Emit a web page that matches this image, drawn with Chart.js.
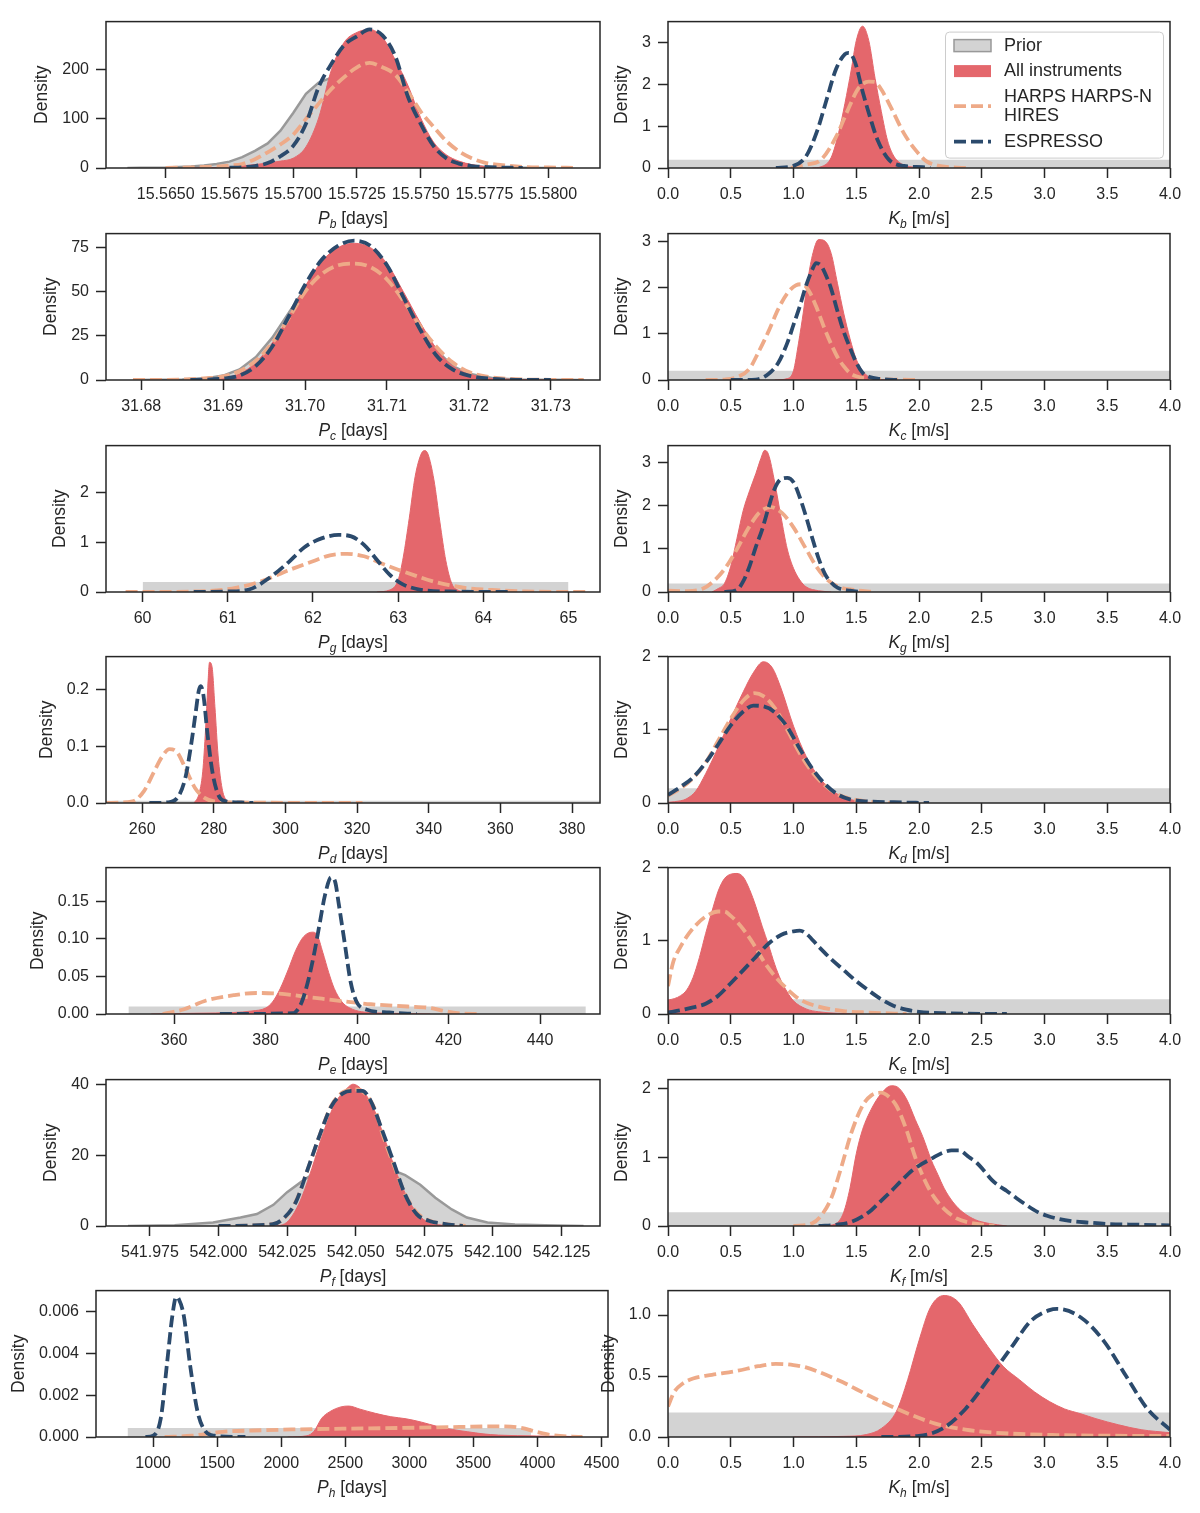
<!DOCTYPE html>
<html>
<head>
<meta charset="utf-8">
<script src="https://cdn.jsdelivr.net/npm/chart.js@4.4.1/dist/chart.umd.min.js"></script>
<style>
  body { margin: 0; background: #fff; }
  #page { position: relative; width: 1200px; height: 1513px; overflow: hidden; background: #fff; }
  #page canvas { position: absolute; }
</style>
</head>
<body>
<div id="page"></div>
<script>
// ---- tick values ----
const kXTicks = [0, 0.5, 1, 1.5, 2, 2.5, 3, 3.5, 4];
const pbXTicks = [15.5650, 15.5675, 15.5700, 15.5725, 15.5750, 15.5775, 15.5800];
const pcXTicks = [31.68, 31.69, 31.70, 31.71, 31.72, 31.73];
const pgXTicks = [60, 61, 62, 63, 64, 65];
const pdXTicks = [260, 280, 300, 320, 340, 360, 380];
const peXTicks = [360, 380, 400, 420, 440];
const pfXTicks = [541.975, 542.000, 542.025, 542.050, 542.075, 542.100, 542.125];
const phXTicks = [1000, 1500, 2000, 2500, 3000, 3500, 4000, 4500];

const pbYTicks = [0, 100, 200];
const pcYTicks = [0, 25, 50, 75];
const pgYTicks = [0, 1, 2];
const pdYTicks = [0, 0.1, 0.2];
const peYTicks = [0, 0.05, 0.10, 0.15];
const pfYTicks = [0, 20, 40];
const phYTicks = [0, 0.002, 0.004, 0.006];
const k3YTicks = [0, 1, 2, 3];
const k2YTicks = [0, 1, 2];
const khYTicks = [0, 0.5, 1.0];

// ---- posterior densities, [value, density] ----
const pbPrior = [[15.5635,0],[15.5640,0.5],[15.5650,1],[15.5660,3],[15.5665,5],[15.5670,8],[15.5675,13],[15.5680,22],[15.5685,35],[15.5690,50],[15.5695,76],[15.5700,112],[15.5705,151],[15.5710,174],[15.5715,184],[15.5720,188],[15.5725,185],[15.5730,175],[15.5735,155],[15.5740,125],[15.5745,95],[15.5750,62],[15.5755,38],[15.5760,20],[15.5765,10],[15.5770,5],[15.5775,2],[15.5780,1],[15.5790,0.3],[15.5800,0]];
const pbAll = [[15.5660,0],[15.5665,0.5],[15.5670,1],[15.5675,2],[15.5680,4],[15.5685,7],[15.5690,10],[15.5695,14],[15.5700,20],[15.5705,43],[15.5710,102],[15.5715,200],[15.5720,256],[15.5725,276],[15.5730,282],[15.5735,266],[15.5740,220],[15.5745,168],[15.5750,102],[15.5755,53],[15.5760,27],[15.5765,14],[15.5770,7],[15.5775,3],[15.5780,1],[15.5790,0.2]];
const pbHarps = [[15.5650,0.3],[15.5660,1],[15.5665,2],[15.5670,3],[15.5675,5],[15.5680,8],[15.5685,18],[15.5690,32],[15.5695,48],[15.5700,68],[15.5705,100],[15.5710,131],[15.5715,161],[15.5720,185],[15.5725,205],[15.5730,214],[15.5735,205],[15.5740,190],[15.5745,155],[15.5750,115],[15.5755,84],[15.5760,55],[15.5765,34],[15.5770,20],[15.5775,11],[15.5780,7],[15.5790,2],[15.5800,1],[15.5810,0.3]];
const pbEspresso = [[15.5675,0.5],[15.5680,1.5],[15.5685,4],[15.5690,10],[15.5695,24],[15.5700,45],[15.5705,90],[15.5710,165],[15.5715,212],[15.5720,250],[15.5725,268],[15.5730,282],[15.5735,270],[15.5740,228],[15.5745,145],[15.5750,90],[15.5755,45],[15.5760,20],[15.5765,9],[15.5770,4],[15.5775,2],[15.5780,1],[15.5790,0.2]];

const kbAll = [[1.15,0],[1.22,0.03],[1.3,0.25],[1.36,0.85],[1.41,1.55],[1.46,2.35],[1.5,3.05],[1.55,3.4],[1.6,3.05],[1.65,2.15],[1.7,1.35],[1.75,0.65],[1.8,0.28],[1.85,0.12],[1.9,0.05],[2.0,0.01]];
const kbHarps = [[0.98,0],[1.1,0.08],[1.22,0.2],[1.34,0.75],[1.43,1.37],[1.52,1.92],[1.6,2.07],[1.65,2.06],[1.7,1.88],[1.79,1.37],[1.88,0.83],[1.97,0.44],[2.06,0.16],[2.15,0.06],[2.24,0.02],[2.39,0]];
const kbEspresso = [[0.86,0],[1.0,0.05],[1.1,0.28],[1.19,0.9],[1.26,1.6],[1.34,2.38],[1.41,2.73],[1.44,2.76],[1.49,2.54],[1.55,1.84],[1.61,1.22],[1.67,0.67],[1.76,0.2],[1.88,0.05],[2.03,0.02],[2.09,0]];

const pcPrior = [[31.679,0],[31.685,0.3],[31.688,1],[31.690,2.5],[31.692,6],[31.694,13],[31.696,24],[31.698,38],[31.700,52],[31.702,63],[31.704,70],[31.706,72],[31.708,68],[31.710,58],[31.712,44],[31.714,30],[31.716,17],[31.718,8],[31.720,3.5],[31.723,1],[31.726,0.3],[31.734,0]];
const pcAll = [[31.686,0],[31.688,0.3],[31.690,1.2],[31.692,3.5],[31.694,10],[31.696,21],[31.698,36],[31.700,53],[31.702,67],[31.704,75],[31.706,77.5],[31.708,75],[31.710,66],[31.712,50],[31.714,33],[31.716,18],[31.718,8],[31.720,3.5],[31.722,1.3],[31.725,0.4],[31.730,0]];
const pcHarps = [[31.679,0],[31.685,0.3],[31.688,1],[31.690,2],[31.692,5],[31.694,11],[31.696,21],[31.698,35],[31.700,50],[31.702,60],[31.704,65],[31.706,66],[31.708,64],[31.710,57],[31.712,45],[31.714,31],[31.716,19],[31.718,10],[31.720,4.5],[31.722,2],[31.725,0.6],[31.730,0.1],[31.734,0]];
const pcEspresso = [[31.686,0],[31.690,0.8],[31.692,2.5],[31.694,8],[31.696,19],[31.698,36],[31.700,54],[31.702,68],[31.704,76],[31.706,79],[31.708,76],[31.710,65],[31.712,47],[31.714,29],[31.716,14],[31.718,6],[31.720,2.5],[31.723,0.6],[31.726,0.1],[31.730,0]];

const kcAll = [[0.85,0],[0.95,0.03],[1.0,0.2],[1.04,0.8],[1.08,1.5],[1.11,2.1],[1.15,2.7],[1.2,3.05],[1.25,3.02],[1.3,2.75],[1.35,2.1],[1.4,1.45],[1.45,0.9],[1.5,0.45],[1.55,0.2],[1.6,0.07],[1.7,0.01],[1.8,0]];
const kcHarps = [[0.3,0],[0.45,0.01],[0.55,0.06],[0.65,0.25],[0.72,0.6],[0.8,1.05],[0.88,1.55],[0.95,1.88],[1.02,2.06],[1.07,2.08],[1.12,1.95],[1.18,1.6],[1.25,1.1],[1.3,0.78],[1.35,0.5],[1.4,0.3],[1.45,0.15],[1.5,0.08],[1.6,0.03],[1.8,0.01],[2.0,0]];
const kcEspresso = [[0.5,0],[0.7,0.01],[0.8,0.13],[0.88,0.38],[0.95,0.8],[1.0,1.2],[1.05,1.6],[1.1,2.05],[1.15,2.4],[1.18,2.54],[1.22,2.48],[1.27,2.2],[1.3,1.98],[1.35,1.5],[1.4,1.05],[1.45,0.7],[1.5,0.38],[1.55,0.16],[1.6,0.07],[1.7,0.02],[1.85,0]];

const pgPrior = [[60,0.2],[65,0.2]];
const pgAll = [[62.75,0],[62.9,0.04],[63.0,0.24],[63.06,0.7],[63.13,1.48],[63.2,2.33],[63.27,2.78],[63.31,2.85],[63.35,2.78],[63.42,2.26],[63.49,1.41],[63.56,0.63],[63.63,0.17],[63.7,0.04],[63.8,0]];
const pgHarps = [[59.8,0],[60.6,0.01],[61.05,0.07],[61.4,0.22],[61.7,0.43],[62.0,0.62],[62.2,0.74],[62.4,0.77],[62.6,0.72],[62.8,0.58],[63.0,0.45],[63.2,0.33],[63.4,0.22],[63.6,0.14],[63.8,0.08],[64.1,0.04],[64.5,0.01],[65.2,0]];
const pgEspresso = [[60.6,0],[61.0,0.01],[61.25,0.05],[61.5,0.3],[61.7,0.58],[61.9,0.9],[62.1,1.08],[62.3,1.15],[62.45,1.12],[62.6,0.95],[62.75,0.65],[62.9,0.35],[63.05,0.16],[63.25,0.05],[63.6,0.01],[64.3,0]];

const kgAll = [[0.35,0],[0.4,0.08],[0.45,0.2],[0.5,0.6],[0.55,1.25],[0.6,1.9],[0.65,2.35],[0.7,2.75],[0.74,3.1],[0.77,3.29],[0.8,3.2],[0.85,2.55],[0.9,1.75],[0.95,1.0],[1.0,0.55],[1.05,0.28],[1.1,0.12],[1.2,0.03],[1.3,0]];
const kgHarps = [[0.0,0.03],[0.15,0.02],[0.28,0.08],[0.37,0.27],[0.46,0.57],[0.55,1.0],[0.64,1.48],[0.73,1.85],[0.82,1.97],[0.91,1.83],[1.0,1.5],[1.1,1.0],[1.18,0.6],[1.27,0.28],[1.36,0.12],[1.48,0.05],[1.64,0]];
const kgEspresso = [[0.45,0],[0.55,0.05],[0.6,0.25],[0.65,0.6],[0.7,1.05],[0.75,1.45],[0.8,1.95],[0.85,2.4],[0.9,2.62],[0.95,2.65],[1.0,2.55],[1.05,2.2],[1.1,1.75],[1.15,1.25],[1.2,0.78],[1.25,0.42],[1.3,0.22],[1.35,0.1],[1.45,0.03],[1.55,0]];

const pdPrior = [[240,0.004],[400,0.004]];
const pdAll = [[274.5,0],[275.8,0.015],[276.9,0.055],[277.7,0.13],[278.3,0.203],[278.8,0.248],[279.5,0.24],[280.3,0.17],[281.2,0.083],[282.3,0.026],[283.4,0.006],[285.6,0]];
const pdHarps = [[250,0],[257.3,0.003],[260.5,0.021],[263.3,0.055],[265.4,0.08],[267.6,0.095],[269.8,0.089],[272,0.062],[274.7,0.027],[277.4,0.009],[280.1,0.003],[285.6,0.001],[321.5,0]];
const pdEspresso = [[262,0],[267,0.001],[269.8,0.009],[272,0.043],[273.6,0.1],[274.9,0.158],[275.8,0.198],[276.3,0.206],[277.1,0.19],[278.2,0.123],[279.6,0.055],[281.2,0.015],[283.4,0.003],[287.7,0.001],[291,0]];

const kdAll = [[0,0.01],[0.1,0.03],[0.15,0.06],[0.22,0.16],[0.3,0.4],[0.4,0.76],[0.5,1.15],[0.6,1.52],[0.68,1.78],[0.76,1.93],[0.83,1.85],[0.9,1.57],[1.0,1.05],[1.1,0.64],[1.2,0.36],[1.3,0.18],[1.4,0.08],[1.5,0.03],[1.65,0]];
const kdHarps = [[0,0.1],[0.1,0.2],[0.2,0.34],[0.3,0.55],[0.4,0.85],[0.5,1.15],[0.6,1.4],[0.69,1.5],[0.76,1.46],[0.85,1.3],[0.95,1.0],[1.05,0.68],[1.15,0.42],[1.25,0.24],[1.35,0.12],[1.45,0.06],[1.55,0.03],[1.65,0.01],[1.8,0]];
const kdEspresso = [[0,0.11],[0.1,0.22],[0.2,0.35],[0.3,0.55],[0.4,0.8],[0.5,1.06],[0.6,1.25],[0.68,1.33],[0.76,1.32],[0.85,1.24],[0.95,1.04],[1.05,0.74],[1.15,0.47],[1.25,0.26],[1.35,0.12],[1.45,0.05],[1.6,0.02],[1.8,0.01],[2.08,0]];

const pePrior = [[350,0.01],[450,0.01]];
const peAll = [[355,0],[365,0.001],[373,0.002],[377,0.004],[380,0.008],[381.5,0.016],[383.2,0.034],[385,0.06],[386.6,0.085],[388.3,0.103],[390.2,0.109],[391.2,0.106],[392.5,0.082],[393.8,0.055],[395,0.034],[396.7,0.016],[398.4,0.008],[401,0.003],[407,0.001],[416,0]];
const peHarps = [[357.5,0],[362,0.006],[367,0.018],[373,0.025],[378,0.028],[383,0.027],[390,0.022],[397,0.017],[403,0.013],[411,0.01],[416,0.008],[419,0.004],[422,0.001],[427,0]];
const peEspresso = [[370,0],[386,0.001],[386.6,0.003],[387.9,0.016],[389.2,0.042],[390.5,0.077],[391.8,0.12],[393,0.159],[394.3,0.182],[395.2,0.176],[396,0.146],[397.3,0.094],[398.6,0.042],[399.9,0.016],[402,0.006],[407,0.002],[413,0]];

const keAll = [[0,0.19],[0.05,0.21],[0.1,0.25],[0.15,0.33],[0.2,0.5],[0.25,0.77],[0.3,1.1],[0.35,1.4],[0.4,1.68],[0.45,1.85],[0.5,1.91],[0.55,1.92],[0.6,1.87],[0.65,1.7],[0.7,1.47],[0.75,1.2],[0.8,0.95],[0.85,0.68],[0.9,0.46],[0.95,0.3],[1.0,0.18],[1.1,0.07],[1.2,0.03],[1.35,0.01],[1.5,0]];
const keHarps = [[0,0.38],[0.04,0.7],[0.1,0.92],[0.15,1.06],[0.22,1.21],[0.3,1.33],[0.4,1.4],[0.45,1.4],[0.5,1.34],[0.58,1.2],[0.68,0.96],[0.77,0.7],[0.86,0.5],[0.95,0.34],[1.05,0.2],[1.2,0.1],[1.4,0.04],[1.6,0.02],[1.9,0]];
const keEspresso = [[0,0.02],[0.1,0.05],[0.2,0.09],[0.3,0.14],[0.4,0.25],[0.5,0.42],[0.6,0.6],[0.7,0.78],[0.8,0.96],[0.9,1.08],[1.0,1.13],[1.05,1.14],[1.1,1.1],[1.2,0.92],[1.3,0.75],[1.4,0.6],[1.5,0.45],[1.6,0.32],[1.7,0.2],[1.8,0.11],[1.9,0.06],[2.0,0.03],[2.2,0.01],[2.7,0]];

const pfPrior = [[541.967,0],[541.984,0.2],[541.998,1],[542.008,2.4],[542.014,3.4],[542.020,6],[542.025,9.6],[542.031,13],[542.035,15],[542.040,16.3],[542.045,17],[542.050,17.2],[542.055,17.1],[542.062,16.3],[542.068,14.4],[542.0735,11.7],[542.079,8],[542.085,4.7],[542.0905,2.4],[542.098,1],[542.108,0.4],[542.119,0.2],[542.133,0]];
const pfAll = [[542.020,0],[542.0226,0.2],[542.0255,1.5],[542.0297,7],[542.034,16.3],[542.0382,26.5],[542.0425,34.8],[542.0468,39],[542.049,40.2],[542.0524,38.5],[542.0567,33],[542.061,23.7],[542.0652,14.4],[542.0695,7],[542.0738,2.4],[542.078,0.7],[542.0822,0.2],[542.087,0]];
const pfHarps = [[542.000,0],[542.020,0.6],[542.0245,2.6],[542.0285,7.5],[542.0325,16],[542.037,26],[542.041,34],[542.0455,38],[542.050,38.7],[542.0535,37.5],[542.057,33],[542.060,25.5],[542.064,17],[542.068,9],[542.0725,3.6],[542.077,1.5],[542.083,0.5],[542.090,0]];
const pfEspresso = [[542.000,0],[542.0198,0.5],[542.024,2.4],[542.0283,7],[542.0326,16.3],[542.0368,25.6],[542.0411,33.9],[542.0453,37.6],[542.049,38.3],[542.0524,38.3],[542.0553,35.7],[542.0595,27.4],[542.0638,18.1],[542.068,8.9],[542.0723,3.3],[542.0766,1.5],[542.0822,0.6],[542.089,0]];

const kfAll = [[1.25,0],[1.35,0.05],[1.4,0.2],[1.45,0.55],[1.5,1.05],[1.55,1.4],[1.62,1.7],[1.7,1.93],[1.78,2.04],[1.83,2.02],[1.9,1.85],[1.97,1.55],[2.03,1.3],[2.1,0.95],[2.15,0.75],[2.2,0.55],[2.27,0.35],[2.35,0.2],[2.45,0.09],[2.55,0.04],[2.7,0]];
const kfHarps = [[1.0,0],[1.15,0.04],[1.22,0.15],[1.3,0.4],[1.38,0.85],[1.46,1.35],[1.55,1.75],[1.62,1.9],[1.7,1.94],[1.76,1.88],[1.82,1.75],[1.9,1.4],[1.97,1.0],[2.05,0.65],[2.12,0.42],[2.2,0.25],[2.3,0.11],[2.4,0.05],[2.6,0]];
const kfEspresso = [[1.2,0],[1.35,0.02],[1.46,0.06],[1.55,0.14],[1.62,0.23],[1.7,0.37],[1.78,0.51],[1.86,0.66],[1.94,0.8],[2.02,0.9],[2.1,0.98],[2.18,1.06],[2.26,1.1],[2.32,1.1],[2.4,1.0],[2.46,0.92],[2.52,0.8],[2.58,0.67],[2.64,0.58],[2.7,0.51],[2.78,0.4],[2.86,0.3],[2.94,0.21],[3.02,0.15],[3.12,0.1],[3.22,0.07],[3.35,0.05],[3.5,0.03],[3.7,0.02],[4.0,0.01]];

const phPrior = [[800,0.00043],[3950,0.00043]];
const phAll = [[2050,0],[2200,0.00006],[2256,0.00028],[2316,0.0009],[2376,0.0012],[2466,0.00144],[2526,0.00148],[2615,0.00133],[2735,0.00113],[2855,0.00097],[2975,0.00087],[3095,0.00071],[3215,0.00051],[3335,0.00036],[3455,0.00025],[3575,0.00015],[3695,0.00009],[3990,0.00005],[4350,0.00002]];
const phHarps = [[1090,0],[1300,0.00006],[1540,0.00025],[1780,0.00031],[2080,0.00036],[2500,0.0004],[2915,0.00043],[3390,0.00048],[3690,0.00051],[3870,0.00044],[3990,0.00025],[4110,0.00009],[4350,0]];
const phEspresso = [[940,0],[1000,0.00006],[1060,0.0009],[1108,0.0035],[1150,0.0058],[1180,0.0067],[1200,0.0066],[1239,0.0058],[1287,0.0035],[1347,0.0012],[1407,0.00028],[1480,0.00006],[1720,0]];

const khAll = [[1.0,0],[1.4,0.005],[1.58,0.02],[1.7,0.07],[1.82,0.21],[1.91,0.47],[2.0,0.79],[2.09,1.06],[2.2,1.16],[2.31,1.11],[2.43,0.92],[2.55,0.74],[2.67,0.58],[2.8,0.47],[2.92,0.37],[3.04,0.29],[3.16,0.23],[3.29,0.19],[3.41,0.15],[3.59,0.1],[3.77,0.06],[4.0,0.035]];
const khHarps = [[0,0.25],[0.05,0.37],[0.12,0.44],[0.2,0.48],[0.35,0.51],[0.54,0.54],[0.72,0.58],[0.86,0.6],[1.0,0.59],[1.1,0.57],[1.21,0.53],[1.39,0.45],[1.58,0.35],[1.76,0.26],[1.94,0.18],[2.13,0.11],[2.37,0.06],[2.61,0.035],[3.1,0.016],[4.0,0.008]];
const khEspresso = [[1.7,0],[2.0,0.01],[2.19,0.07],[2.37,0.23],[2.55,0.47],[2.74,0.74],[2.89,0.95],[3.04,1.04],[3.1,1.05],[3.29,0.98],[3.47,0.79],[3.65,0.5],[3.82,0.23],[4.0,0.06]];

const kPrior = [[0,0.2],[4,0.2]];

const legendLabels = ['Prior', 'All instruments', 'HARPS HARPS-N\nHIRES', 'ESPRESSO'];

// ---- styling ----
const FONT = '"Liberation Sans", Arial, sans-serif';
const INK = '#262626';
const RED = '#e4676c';
const ORANGE = '#eeaa88';
const NAVY = '#2b4a6c';
const PRIOR_FILL = '#d3d3d3';
const PRIOR_LINE = '#999999';
const TICK_FONT = 16;
const LABEL_FONT = 17.5;
const LEGEND_FONT = 18;
const TICK_LEN = 10;
const TICK_PAD = 7;
const LINE_W = 3.8;
const DASH = [12, 5];

// frame layout of the 7x2 grid
const ROW_TOPS = [17, 229, 441, 652, 863, 1075, 1286];
const ROW_H = 151;
const LEFT_COL = [[106, 600], [106, 600], [106, 600], [106, 600], [106, 600], [106, 600], [96, 608]];
const RIGHT_COL = [668, 1170];

const panels = [
  { row: 0, col: 0, sym: 'P', sub: 'b', unit: '[days]', x: [15.56266, 15.58203], yMax: 298, xTicks: pbXTicks, xDec: 4, yTicks: pbYTicks, yDec: 0, prior: pbPrior, kde: true, all: pbAll, harps: pbHarps, esp: pbEspresso },
  { row: 0, col: 1, sym: 'K', sub: 'b', unit: '[m/s]', x: [0, 4], yMax: 3.51, xTicks: kXTicks, xDec: 1, yTicks: k3YTicks, yDec: 0, prior: kPrior, all: kbAll, harps: kbHarps, esp: kbEspresso, legend: true },
  { row: 1, col: 0, sym: 'P', sub: 'c', unit: '[days]', x: [31.6757, 31.7360], yMax: 83, xTicks: pcXTicks, xDec: 2, yTicks: pcYTicks, yDec: 0, prior: pcPrior, kde: true, all: pcAll, harps: pcHarps, esp: pcEspresso },
  { row: 1, col: 1, sym: 'K', sub: 'c', unit: '[m/s]', x: [0, 4], yMax: 3.18, xTicks: kXTicks, xDec: 1, yTicks: k3YTicks, yDec: 0, prior: kPrior, all: kcAll, harps: kcHarps, esp: kcEspresso },
  { row: 2, col: 0, sym: 'P', sub: 'g', unit: '[days]', x: [59.57, 65.37], yMax: 2.95, xTicks: pgXTicks, xDec: 0, yTicks: pgYTicks, yDec: 0, prior: pgPrior, all: pgAll, harps: pgHarps, esp: pgEspresso },
  { row: 2, col: 1, sym: 'K', sub: 'g', unit: '[m/s]', x: [0, 4], yMax: 3.4, xTicks: kXTicks, xDec: 1, yTicks: k3YTicks, yDec: 0, prior: kPrior, all: kgAll, harps: kgHarps, esp: kgEspresso },
  { row: 3, col: 0, sym: 'P', sub: 'd', unit: '[days]', x: [249.9, 387.8], yMax: 0.258, xTicks: pdXTicks, xDec: 0, yTicks: pdYTicks, yDec: 1, prior: pdPrior, all: pdAll, harps: pdHarps, esp: pdEspresso },
  { row: 3, col: 1, sym: 'K', sub: 'd', unit: '[m/s]', x: [0, 4], yMax: 2.0, xTicks: kXTicks, xDec: 1, yTicks: k2YTicks, yDec: 0, prior: kPrior, all: kdAll, harps: kdHarps, esp: kdEspresso },
  { row: 4, col: 0, sym: 'P', sub: 'e', unit: '[days]', x: [345.1, 453.1], yMax: 0.195, xTicks: peXTicks, xDec: 0, yTicks: peYTicks, yDec: 2, prior: pePrior, all: peAll, harps: peHarps, esp: peEspresso },
  { row: 4, col: 1, sym: 'K', sub: 'e', unit: '[m/s]', x: [0, 4], yMax: 2.0, xTicks: kXTicks, xDec: 1, yTicks: k2YTicks, yDec: 0, prior: kPrior, all: keAll, harps: keHarps, esp: keEspresso },
  { row: 5, col: 0, sym: 'P', sub: 'f', unit: '[days]', x: [541.959, 542.139], yMax: 41.5, xTicks: pfXTicks, xDec: 3, yTicks: pfYTicks, yDec: 0, prior: pfPrior, kde: true, all: pfAll, harps: pfHarps, esp: pfEspresso },
  { row: 5, col: 1, sym: 'K', sub: 'f', unit: '[m/s]', x: [0, 4], yMax: 2.13, xTicks: kXTicks, xDec: 1, yTicks: k2YTicks, yDec: 0, prior: kPrior, all: kfAll, harps: kfHarps, esp: kfEspresso },
  { row: 6, col: 0, sym: 'P', sub: 'h', unit: '[days]', x: [554, 4550], yMax: 0.0070, xTicks: phXTicks, xDec: 0, yTicks: phYTicks, yDec: 3, prior: phPrior, all: phAll, harps: phHarps, esp: phEspresso },
  { row: 6, col: 1, sym: 'K', sub: 'h', unit: '[m/s]', x: [0, 4], yMax: 1.2, xTicks: kXTicks, xDec: 1, yTicks: khYTicks, yDec: 1, prior: kPrior, all: khAll, harps: khHarps, esp: khEspresso }
];

// canvas margins around each frame
const PAD_L = 110, PAD_R = 30, PAD_T = 12, PAD_B = 66;
const Y_AXIS_W = 60, X_AXIS_H = 36;

function toPoints(pairs) {
  return pairs.map(([x, y]) => ({ x, y }));
}

function drawAxisTitle(ctx, p, a) {
  const big = `${LABEL_FONT}px ${FONT}`;
  const italic = `italic ${LABEL_FONT}px ${FONT}`;
  const small = `italic ${Math.round(LABEL_FONT * 0.7)}px ${FONT}`;
  ctx.font = italic; const w1 = ctx.measureText(p.sym).width;
  ctx.font = small; const w2 = ctx.measureText(p.sub).width;
  ctx.font = big; const w3 = ctx.measureText(' ' + p.unit).width;
  let x = (a.left + a.right) / 2 - (w1 + w2 + w3) / 2;
  const y = a.bottom + 56;
  ctx.fillStyle = INK;
  ctx.textAlign = 'left';
  ctx.textBaseline = 'alphabetic';
  ctx.font = italic; ctx.fillText(p.sym, x, y); x += w1;
  ctx.font = small; ctx.fillText(p.sub, x, y + 4); x += w2;
  ctx.font = big; ctx.fillText(' ' + p.unit, x, y);
}

function drawDensityLabel(ctx, chart, a) {
  ctx.font = `${TICK_FONT}px ${FONT}`;
  let widest = 0;
  chart.scales.y.ticks.forEach(t => {
    widest = Math.max(widest, ctx.measureText(t.label).width);
  });
  const x = a.left - TICK_LEN - TICK_PAD - widest - 11;
  ctx.save();
  ctx.translate(x, (a.top + a.bottom) / 2);
  ctx.rotate(-Math.PI / 2);
  ctx.font = `${LABEL_FONT}px ${FONT}`;
  ctx.fillStyle = INK;
  ctx.textAlign = 'center';
  ctx.textBaseline = 'bottom';
  ctx.fillText('Density', 0, 0);
  ctx.restore();
}

function drawLegend(ctx, a) {
  // box sits in the upper right of the K_b panel
  const bx = a.left + 277, by = a.top + 10, bw = 218, bh = 126;
  ctx.save();
  ctx.fillStyle = 'rgba(255,255,255,0.85)';
  ctx.strokeStyle = '#cccccc';
  ctx.lineWidth = 1;
  ctx.beginPath();
  ctx.roundRect(bx + 0.5, by + 0.5, bw, bh, 4);
  ctx.fill();
  ctx.stroke();

  const hx = bx + 9, hw = 37, tx = bx + 59;
  const rows = [by + 14, by + 39.5, by + 74.5, by + 110];
  ctx.font = `${LEGEND_FONT}px ${FONT}`;
  ctx.textBaseline = 'middle';
  ctx.textAlign = 'left';

  // Prior patch
  ctx.fillStyle = PRIOR_FILL;
  ctx.fillRect(hx, rows[0] - 6, hw, 12);
  ctx.strokeStyle = PRIOR_LINE; ctx.lineWidth = 1.5;
  ctx.strokeRect(hx, rows[0] - 6, hw, 12);
  // All instruments patch
  ctx.fillStyle = RED;
  ctx.fillRect(hx, rows[1] - 6, hw, 12);
  // dashed handles
  ctx.lineWidth = LINE_W;
  ctx.setLineDash(DASH);
  ctx.strokeStyle = ORANGE;
  ctx.beginPath(); ctx.moveTo(hx, rows[2]); ctx.lineTo(hx + hw, rows[2]); ctx.stroke();
  ctx.strokeStyle = NAVY;
  ctx.beginPath(); ctx.moveTo(hx, rows[3]); ctx.lineTo(hx + hw, rows[3]); ctx.stroke();
  ctx.setLineDash([]);

  ctx.fillStyle = INK;
  ctx.fillText(legendLabels[0], tx, rows[0]);
  ctx.fillText(legendLabels[1], tx, rows[1]);
  const two = legendLabels[2].split('\n');
  ctx.fillText(two[0], tx, rows[2] - 9.5);
  ctx.fillText(two[1], tx, rows[2] + 9.5);
  ctx.fillText(legendLabels[3], tx, rows[3]);
  ctx.restore();
}

function makePanel(p) {
  const [fl, fr] = p.col === 0 ? LEFT_COL[p.row] : RIGHT_COL;
  const ft = ROW_TOPS[p.row];
  const canvas = document.createElement('canvas');
  const w = (fr - fl) + PAD_L + PAD_R;
  const h = ROW_H + PAD_T + PAD_B;
  canvas.width = w;
  canvas.height = h;
  canvas.style.left = (fl - PAD_L) + 'px';
  canvas.style.top = (ft - PAD_T) + 'px';
  canvas.style.width = w + 'px';
  canvas.style.height = h + 'px';
  document.getElementById('page').appendChild(canvas);

  const datasets = [
    {
      label: 'Prior', data: toPoints(p.prior), order: 4,
      backgroundColor: PRIOR_FILL, borderColor: p.kde ? PRIOR_LINE : PRIOR_FILL,
      borderWidth: p.kde ? 2.5 : 0, fill: 'origin', tension: 0
    },
    {
      label: 'All instruments', data: toPoints(p.all), order: 3,
      backgroundColor: RED, borderColor: RED, borderWidth: 1, fill: 'origin'
    },
    {
      label: 'HARPS HARPS-N HIRES', data: toPoints(p.harps), order: 2,
      borderColor: ORANGE, borderWidth: LINE_W, borderDash: DASH, fill: false
    },
    {
      label: 'ESPRESSO', data: toPoints(p.esp), order: 1,
      borderColor: NAVY, borderWidth: LINE_W, borderDash: DASH, fill: false
    }
  ];
  datasets.forEach(d => {
    d.pointRadius = 0;
    d.clip = 0;
    if (d.tension === undefined) d.cubicInterpolationMode = 'monotone';
  });

  const tickFont = { family: FONT, size: TICK_FONT };
  const grid = { drawOnChartArea: false, drawTicks: true, tickLength: TICK_LEN, tickColor: INK, tickWidth: 1.5 };

  new Chart(canvas, {
    type: 'line',
    data: { datasets },
    options: {
      responsive: false,
      animation: false,
      devicePixelRatio: 1,
      layout: { padding: { left: PAD_L - Y_AXIS_W, right: PAD_R, top: PAD_T, bottom: PAD_B - X_AXIS_H } },
      plugins: { legend: { display: false }, tooltip: { enabled: false } },
      scales: {
        x: {
          type: 'linear', min: p.x[0], max: p.x[1],
          grid, border: { display: false },
          ticks: {
            font: tickFont, color: INK, padding: TICK_PAD, maxRotation: 0, autoSkip: false,
            callback: v => Number(v).toFixed(p.xDec)
          },
          afterBuildTicks: axis => { axis.ticks = p.xTicks.map(v => ({ value: v })); },
          afterFit: axis => { axis.height = X_AXIS_H; }
        },
        y: {
          min: 0, max: p.yMax,
          grid, border: { display: false },
          ticks: {
            font: tickFont, color: INK, padding: TICK_PAD,
            callback: v => Number(v).toFixed(p.yDec)
          },
          afterBuildTicks: axis => { axis.ticks = p.yTicks.map(v => ({ value: v })); },
          afterFit: axis => { axis.width = Y_AXIS_W; }
        }
      }
    },
    plugins: [{
      id: 'frame',
      afterDraw(chart) {
        const ctx = chart.ctx, a = chart.chartArea;
        ctx.save();
        ctx.strokeStyle = INK;
        ctx.lineWidth = 1.5;
        ctx.strokeRect(a.left, a.top, a.right - a.left, a.bottom - a.top);
        drawAxisTitle(ctx, p, a);
        drawDensityLabel(ctx, chart, a);
        if (p.legend) drawLegend(ctx, a);
        ctx.restore();
      }
    }]
  });
}

panels.forEach(makePanel);
</script>
</body>
</html>
